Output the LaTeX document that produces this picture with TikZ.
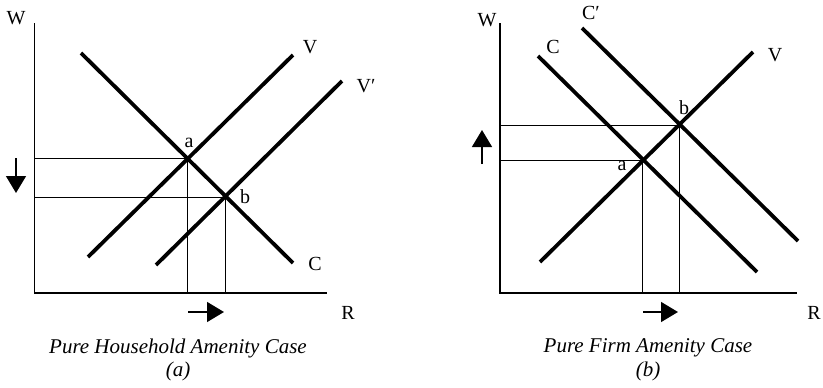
\documentclass[tikz,border=0pt]{standalone}
\usepackage{fontspec}
\setmainfont{Liberation Serif}
\usetikzlibrary{arrows.meta}

\begin{document}
\begin{tikzpicture}[x=1pt, y=-1pt,
        axis/.style={line width=1.5pt},
        curve/.style={line width=3.8pt},
        guide/.style={line width=0.8pt},
        movearrow/.style={-{Triangle[length=17pt,width=20pt]}, line width=1.4pt},
        lbl/.style={font=\fontsize{20}{22}\selectfont, inner sep=0pt},
        caption/.style={font=\fontsize{21}{24}\selectfont\itshape, inner sep=0pt}
    ]
        \useasboundingbox (0,0) rectangle (823,388);

        % Panel (a): household amenity
        \coordinate (oA) at (34.5,293);
        \coordinate (topA) at (34.5,23);
        \coordinate (endA) at (327,293);
        \coordinate (a1) at (187,158);
        \coordinate (b1) at (225,197);
        \coordinate (cA1) at (81,53);   \coordinate (cA2) at (293,263);
        \coordinate (vA1) at (88,257);  \coordinate (vA2) at (293,55);
        \coordinate (wA1) at (156,265); \coordinate (wA2) at (342,81);

        \draw[axis] (topA) -- (oA) -- (endA);
        \draw[guide] (oA |- a1) -- (a1) -- (a1 |- oA);
        \draw[guide] (oA |- b1) -- (b1) -- (b1 |- oA);
        \draw[curve] (cA1) -- (cA2);
        \draw[curve] (vA1) -- (vA2);
        \draw[curve] (wA1) -- (wA2);

        \node[lbl] (wlblA) at (16,18) {W};
        \node[lbl] (rlblA) at (348,313) {R};
        \node[lbl] (albA) at (189,143) {a};
        \node[lbl] (blbA) at (245,197) {b};
        \node[lbl] (vlbA) at (310,47) {V};
        \node[lbl] (vplbA) at (366,86) {V′};
        \node[lbl] (clbA) at (315,264) {C};

        \coordinate (dnA1) at (16,158); \coordinate (dnA2) at (16,193);
        \coordinate (rtA1) at (188,312); \coordinate (rtA2) at (224,312);
        \draw[movearrow] (dnA1) -- (dnA2);
        \draw[movearrow] (rtA1) -- (rtA2);

        \node[caption] (capA) at (178,348) {Pure Household Amenity Case};
        \node[caption] (subA) at (178,371) {(a)};

        % Panel (b): firm amenity
        \coordinate (oB) at (500,293);
        \coordinate (topB) at (500,23);
        \coordinate (endB) at (797,293);
        \coordinate (a2) at (642,160);
        \coordinate (b2) at (679,125);
        \coordinate (cB1) at (538,56);  \coordinate (cB2) at (757,272);
        \coordinate (dB1) at (582,28);  \coordinate (dB2) at (798,241);
        \coordinate (vB1) at (540,262); \coordinate (vB2) at (753,52);

        \draw[axis] (topB) -- (oB) -- (endB);
        \draw[guide] (oB |- a2) -- (a2) -- (a2 |- oB);
        \draw[guide] (oB |- b2) -- (b2) -- (b2 |- oB);
        \draw[curve] (cB1) -- (cB2);
        \draw[curve] (dB1) -- (dB2);
        \draw[curve] (vB1) -- (vB2);

        \node[lbl] (wlblB) at (487,20) {W};
        \node[lbl] (rlblB) at (814,313) {R};
        \node[lbl] (albB) at (622,166) {a};
        \node[lbl] (blbB) at (684,108) {b};
        \node[lbl] (clbB) at (553,47) {C};
        \node[lbl] (cplbB) at (591,13) {C′};
        \node[lbl] (vlbB) at (775,55) {V};

        \coordinate (upB1) at (482,164); \coordinate (upB2) at (482,130);
        \coordinate (rtB1) at (643,312); \coordinate (rtB2) at (678,312);
        \draw[movearrow] (upB1) -- (upB2);
        \draw[movearrow] (rtB1) -- (rtB2);

        \node[caption] (capB) at (648,348) {Pure Firm Amenity Case};
        \node[caption] (subB) at (648,371) {(b)};
    \end{tikzpicture}
\end{document}
